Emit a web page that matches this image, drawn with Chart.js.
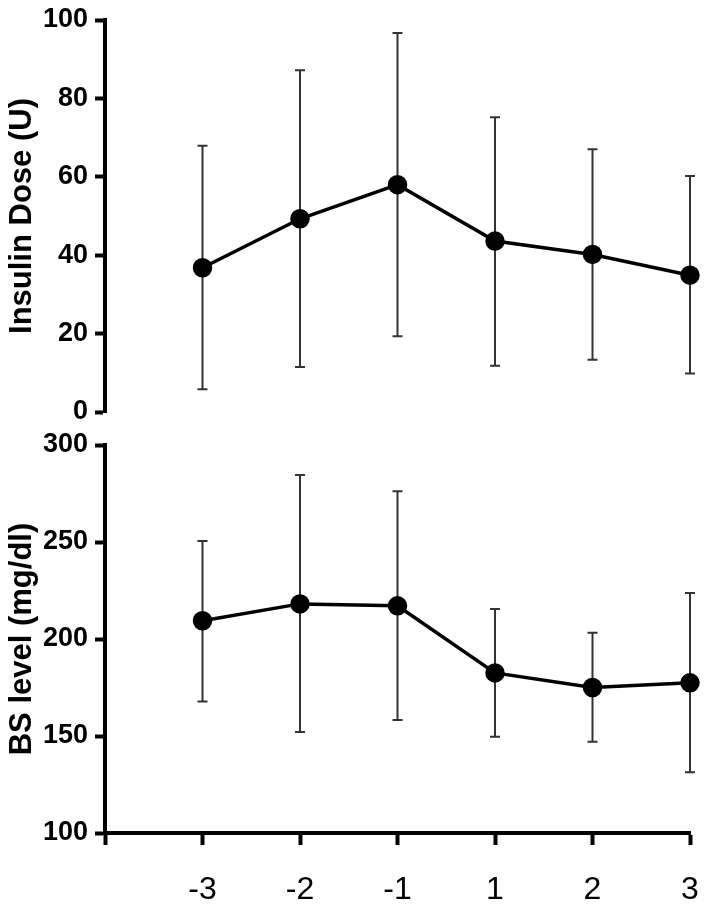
<!DOCTYPE html>
<html>
<head>
<meta charset="utf-8">
<script src="https://cdn.jsdelivr.net/npm/chart.js@4"></script>
<style>
    body { margin: 0; background: #fff; }
    #wrap { position: relative; width: 704px; height: 907px; }
    canvas { position: absolute; left: 0; }
    #insulinChart { top: 0; }
    #bsChart { top: 430px; }
</style>
</head>
<body>
<div id="wrap">
    <canvas id="insulinChart" width="704" height="430"></canvas>
    <canvas id="bsChart" width="704" height="477"></canvas>
</div>
<script>
// Donnees
const categories = ["-3", "-2", "-1", "1", "2", "3"];

const insulinMean = [36.8, 49.3, 58.0, 43.6, 40.2, 34.9];
const insulinLow = [5.8, 11.5, 19.3, 11.8, 13.3, 9.8];
const insulinHigh = [67.9, 87.2, 96.7, 75.2, 67.0, 60.2];

const bsMean = [209.4, 218.1, 217.1, 182.5, 175.0, 177.4];
const bsLow = [167.8, 152.0, 158.2, 149.6, 147.0, 131.3];
const bsHigh = [250.5, 284.5, 276.1, 215.4, 203.2, 223.7];

const FONT = "'Liberation Sans', Arial, sans-serif";

// Barres d'erreur dessinees avec les echelles du graphique
function makeErrorBars(low, high) {
    return {
        id: "errorBars",
        beforeDatasetsDraw(chart) {
            const { ctx, scales: { x, y } } = chart;
            ctx.save();
            ctx.strokeStyle = "#333";
            ctx.lineWidth = 2;
            low.forEach((lo, i) => {
                const px = x.getPixelForValue(i + 1);
                const top = y.getPixelForValue(high[i]);
                const bot = y.getPixelForValue(lo);
                ctx.beginPath();
                ctx.moveTo(px, top); ctx.lineTo(px, bot);
                ctx.moveTo(px - 5, top); ctx.lineTo(px + 5, top);
                ctx.moveTo(px - 5, bot); ctx.lineTo(px + 5, bot);
                ctx.stroke();
            });
            ctx.restore();
        },
    };
}

function points(values) {
    return values.map((v, i) => ({ x: i + 1, y: v }));
}

function buildChart(id, values, low, high, yOpts, showX, padding) {
    return new Chart(document.getElementById(id), {
        type: "line",
        data: {
            datasets: [{
                data: points(values),
                borderColor: "#000",
                backgroundColor: "#000",
                borderWidth: 3.5,
                pointRadius: 8,
                pointHoverRadius: 8,
                clip: false,
            }],
        },
        plugins: [makeErrorBars(low, high)],
        options: {
            responsive: false,
            animation: false,
            events: [],
            layout: { padding: padding },
            plugins: {
                legend: { display: false },
                tooltip: { enabled: false },
            },
            scales: {
                x: {
                    type: "linear",
                    display: showX,
                    min: 0,
                    max: 6,
                    afterFit: (s) => {
                        s.height = showX ? 74 : 0;
                        s.paddingLeft = 0;
                        s.paddingRight = 0;
                    },
                    afterBuildTicks: (s) => {
                        s.ticks = [0, 1, 2, 3, 4, 5, 6].map((v) => ({ value: v }));
                    },
                    ticks: {
                        callback: (v) => (v >= 1 ? categories[v - 1] : ""),
                        color: "#000",
                        font: { family: FONT, size: 32 },
                        padding: 26,
                        maxRotation: 0,
                        autoSkip: false,
                    },
                    grid: {
                        drawOnChartArea: false,
                        drawTicks: true,
                        tickLength: 12,
                        tickWidth: 4,
                        tickColor: "#000",
                    },
                    border: { display: true, color: "#000", width: 4 },
                },
                y: {
                    min: yOpts.min,
                    max: yOpts.max,
                    afterFit: (s) => {
                        s.width = 105;
                        s.paddingTop = 0;
                        s.paddingBottom = 0;
                    },
                    ticks: {
                        stepSize: yOpts.step,
                        color: "#000",
                        font: { family: FONT, size: 27, weight: "bold" },
                        padding: 7,
                    },
                    grid: {
                        drawOnChartArea: false,
                        drawTicks: true,
                        tickLength: 10,
                        tickWidth: 4,
                        tickColor: "#000",
                    },
                    border: { display: true, color: "#000", width: 4 },
                    title: {
                        display: true,
                        text: yOpts.title,
                        color: "#000",
                        font: { family: FONT, size: 31, weight: "bold" },
                        padding: { top: 4, bottom: 0 },
                    },
                },
            },
        },
    });
}

// Dose d'insuline (panneau du haut)
buildChart("insulinChart", insulinMean, insulinLow, insulinHigh,
    { min: 0, max: 100, step: 20, title: "Insulin Dose (U)" },
    false, { top: 20, bottom: 18, left: 0, right: 14 });

// Glycemie (panneau du bas)
buildChart("bsChart", bsMean, bsLow, bsHigh,
    { min: 100, max: 300, step: 50, title: "BS level (mg/dl)" },
    true, { top: 15, bottom: 0, left: 0, right: 14 });
</script>
</body>
</html>
